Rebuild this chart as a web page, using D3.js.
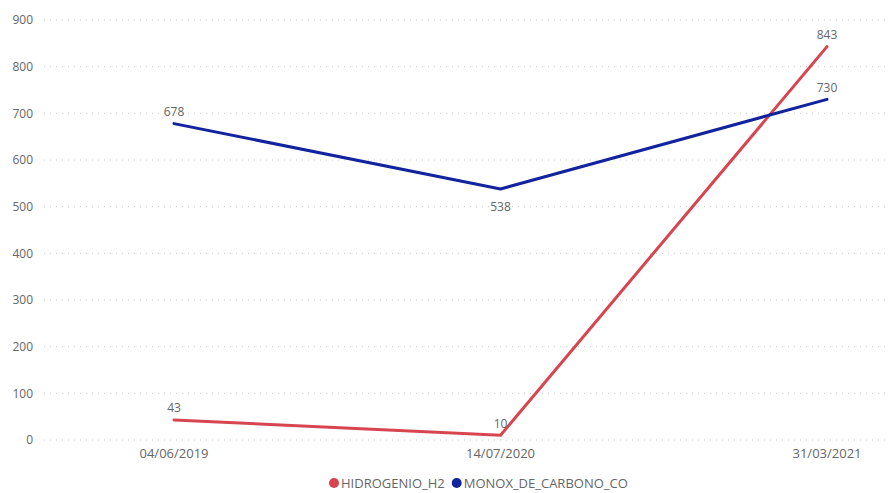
<!DOCTYPE html>
<html><head><meta charset="utf-8">
<script src="https://cdn.jsdelivr.net/npm/d3@7"></script>
<style>body{margin:0;background:#fff;}svg{display:block;font-family:"Segoe UI","Open Sans","Noto Sans",sans-serif;}</style>
</head><body><svg id="c" width="896" height="493"></svg>
<script>
const categories = ["04/06/2019","14/07/2020","31/03/2021"];
const h2 = [43, 10, 843];
const co = [678, 538, 730];
const yTicks = [0,100,200,300,400,500,600,700,800,900];
const seriesNames = ["HIDROGENIO_H2","MONOX_DE_CARBONO_CO"];
const colors = ["#D64550","#12239E"];

const svg = d3.select("#c");
const x = d3.scalePoint().domain(categories).range([174, 827]);
const y = d3.scaleLinear().domain([0, 900]).range([440, 20]);

const g = svg.append("g");
// gridlines
g.selectAll("line.grid").data(yTicks).join("line")
  .attr("x1", 44).attr("x2", 890)
  .attr("y1", d => y(d)).attr("y2", d => y(d))
  .attr("stroke", "#c8c8c8").attr("stroke-width", 1).attr("stroke-dasharray", "1,5");
// y labels
g.selectAll("text.yl").data(yTicks).join("text")
  .attr("x", 33).attr("y", d => y(d)).attr("dy", "0.35em")
  .attr("text-anchor", "end").attr("font-size", 12).attr("fill", "#666")
  .text(d => d);
// x labels
g.selectAll("text.xl").data(categories).join("text")
  .attr("x", d => x(d)).attr("y", 453).attr("dy", "0.35em")
  .attr("text-anchor", "middle").attr("font-size", 13).attr("fill", "#666")
  .text(d => d);

const series = [h2, co];
const line = d3.line().x((d,i) => x(categories[i])).y(d => y(d));
series.forEach((s, k) => {
  svg.append("path").datum(s).attr("d", line)
    .attr("fill", "none").attr("stroke", colors[k]).attr("stroke-width", 3)
    .attr("stroke-linejoin", "round").attr("stroke-linecap", "round");
});

// data labels
const labelOffsets = [[-12, -12, -12], [-12, 18, -12]];
series.forEach((s, k) => {
  svg.selectAll(null).data(s).join("text")
    .attr("x", (d,i) => x(categories[i])).attr("y", (d,i) => y(d) + labelOffsets[k][i])
    .attr("dy", "0.35em").attr("text-anchor", "middle")
    .attr("font-size", 12).attr("fill", "#666").text(d => d);
});

// legend
const leg = svg.append("g");
let lx = 334;
seriesNames.forEach((n, k) => {
  leg.append("circle").attr("cx", lx).attr("cy", 483).attr("r", 5).attr("fill", colors[k]);
  const t = leg.append("text").attr("x", lx + 7).attr("y", 483).attr("dy", "0.35em")
    .attr("font-size", 13).attr("fill", "#666").text(n);
  lx += 7 + t.node().getComputedTextLength() + 12;
});
</script></body></html>
